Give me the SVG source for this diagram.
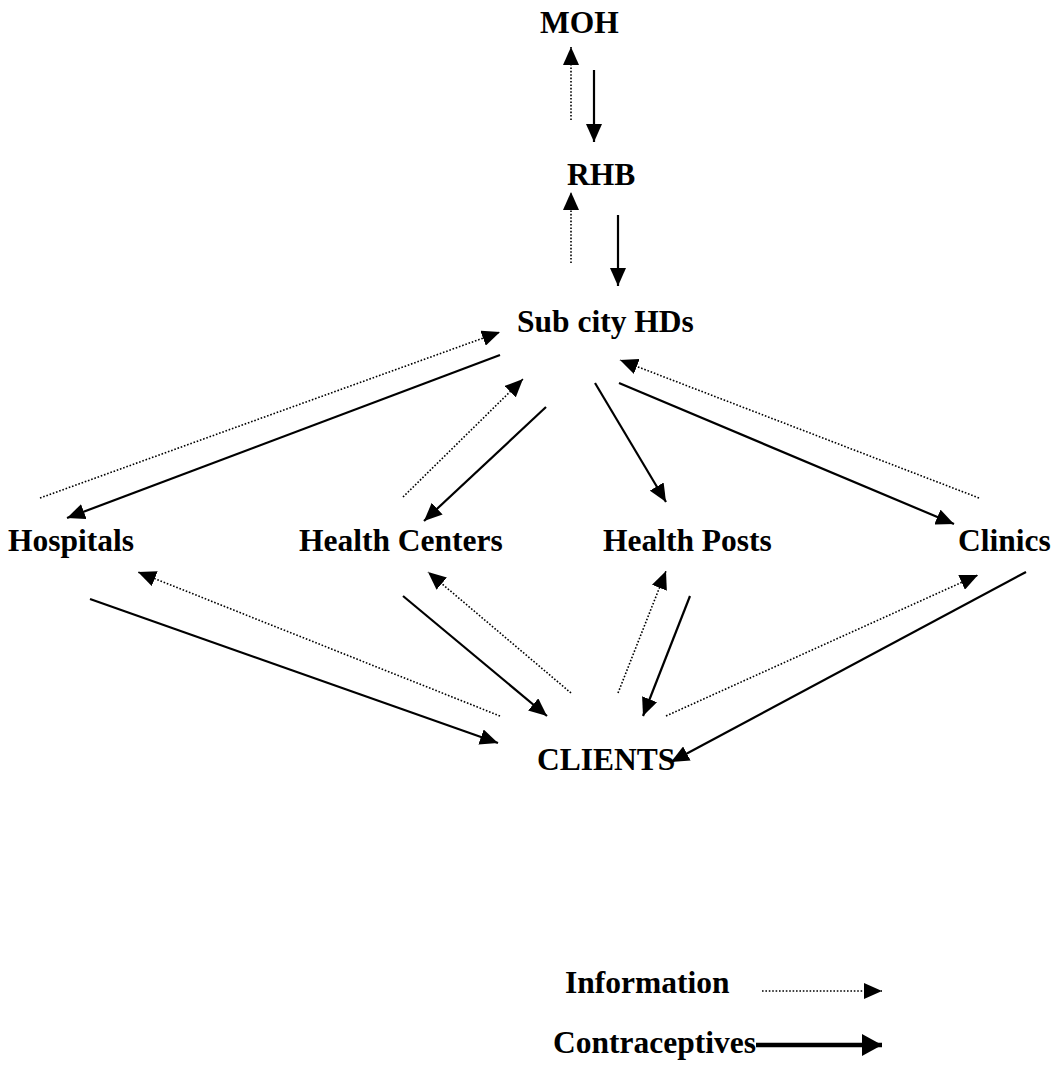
<svg xmlns="http://www.w3.org/2000/svg" width="1057" height="1070" viewBox="0 0 1057 1070">
<style>
text{font-family:"Liberation Serif","Times New Roman",serif;font-weight:bold;font-size:31.5px;fill:#000}
.info{stroke:#000;stroke-width:1.6;stroke-dasharray:1.6 1.8;fill:none;marker-end:url(#ah)}
.cont{stroke:#000;stroke-width:2.2;fill:none;marker-end:url(#ah)}
</style>
<defs>
<marker id="ah" markerUnits="userSpaceOnUse" markerWidth="18" markerHeight="16" refX="18" refY="8" orient="auto"><path d="M0,0 L18,8 L0,16 z" fill="#000"/></marker>
<marker id="ahb" markerUnits="userSpaceOnUse" markerWidth="20" markerHeight="22" refX="20" refY="11" orient="auto"><path d="M0,0 L20,11 L0,22 z" fill="#000"/></marker>
</defs>
<rect width="1057" height="1070" fill="#fff"/>
<g id="moh"><text x="540" y="33">MOH</text></g>
<g id="rhb"><text x="567" y="185">RHB</text></g>
<g id="subcity"><text x="517" y="332">Sub city HDs</text></g>
<g id="hospitals"><text x="8" y="551">Hospitals</text></g>
<g id="healthcenters"><text x="299" y="551">Health Centers</text></g>
<g id="healthposts"><text x="603" y="551">Health Posts</text></g>
<g id="clinics"><text x="958" y="551">Clinics</text></g>
<g id="clients"><text x="537" y="770">CLIENTS</text></g>
<g id="legend">
<text x="565" y="993">Information</text>
<text x="553" y="1053">Contraceptives</text>
<line class="info" x1="762" y1="991" x2="882" y2="991"/>
<line x1="756" y1="1045" x2="882" y2="1045" stroke="#000" stroke-width="4.5" marker-end="url(#ahb)"/>
</g>
<g id="connectors">
<line class="info" x1="571" y1="120" x2="571" y2="47"/>
<line class="cont" x1="594" y1="70" x2="594" y2="142"/>
<line class="info" x1="571" y1="263" x2="571" y2="192"/>
<line class="cont" x1="618" y1="215" x2="618" y2="286"/>
<line class="info" x1="40" y1="498" x2="500" y2="332"/>
<line class="cont" x1="500" y1="355" x2="67" y2="518"/>
<line class="info" x1="403" y1="497" x2="523" y2="379"/>
<line class="cont" x1="546" y1="407" x2="424" y2="521"/>
<line class="cont" x1="595" y1="383" x2="666" y2="502"/>
<line class="info" x1="979" y1="498" x2="620" y2="360"/>
<line class="cont" x1="619" y1="383" x2="954" y2="524"/>
<line class="cont" x1="90" y1="599" x2="498" y2="743"/>
<line class="info" x1="500" y1="716" x2="138" y2="572"/>
<line class="cont" x1="403" y1="596" x2="547" y2="716"/>
<line class="info" x1="571" y1="693" x2="428" y2="572"/>
<line class="info" x1="618" y1="693" x2="666" y2="571"/>
<line class="cont" x1="690" y1="596" x2="643" y2="716"/>
<line class="info" x1="666" y1="716" x2="978" y2="575"/>
<line class="cont" x1="1026" y1="572" x2="671" y2="762"/>
</g>
</svg>
